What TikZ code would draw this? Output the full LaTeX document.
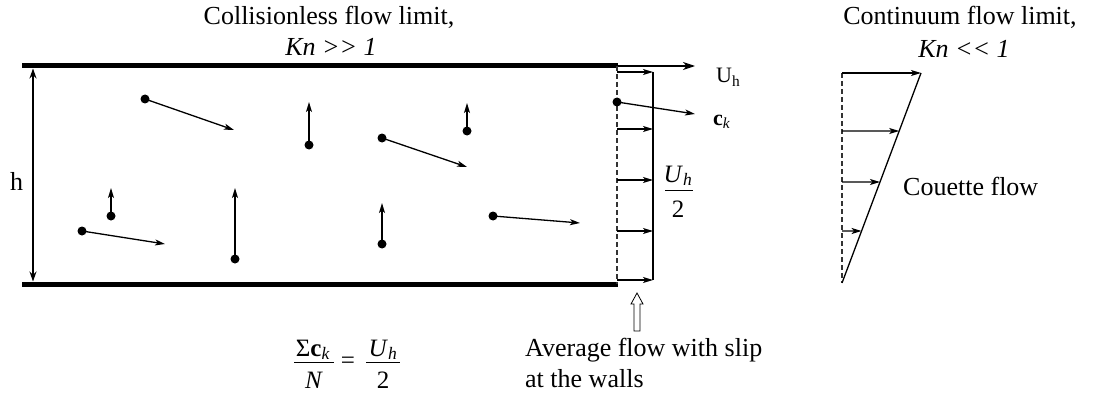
\documentclass[tikz,border=0pt]{standalone}
\usepackage{fontspec}
\setmainfont{Liberation Serif}
\usetikzlibrary{arrows.meta,calc}
\begin{document}
\begin{tikzpicture}[x=1pt,y=-1pt,
  wall/.style={line width=5pt},
  thinline/.style={line width=1.3pt},
  vec/.style={line width=1.3pt,-{Stealth[length=10pt,width=6pt,inset=2.5pt]}},
  bigvec/.style={line width=1.3pt,-{Stealth[length=12pt,width=8pt,inset=3.5pt]}},
  dashline/.style={line width=1.1pt,dash pattern=on 5pt off 3pt,gray!40!black},
  dot/.style={circle,fill,inner sep=0pt,minimum size=9pt},
  lbl/.style={font=\fontsize{26}{31}\selectfont,inner sep=0pt},
  mlbl/.style={font=\fontsize{25}{29}\selectfont,inner sep=0pt},
  slbl/.style={font=\fontsize{22}{26}\selectfont,inner sep=0pt},
  fracbar/.style={line width=1pt},
  ]
\useasboundingbox (0,0) rectangle (1093,396);

% walls
\coordinate (tl) at (22,66); \coordinate (tr) at (618,66);
\coordinate (bl) at (22,284); \coordinate (br) at (618,284);
\draw[wall] (tl) -- (tr);
\draw[wall] (bl) -- (br);

% height arrow
\coordinate (ht) at (33,68.5); \coordinate (hb) at (33,281.5);
\draw[thinline,{Stealth[length=10pt,width=7pt]}-{Stealth[length=10pt,width=7pt]}] (ht) -- (hb);
\node[lbl,anchor=base west] (hlab) at (10,190) {h};

% particles
\node[dot] (p1) at (145,99) {};  \coordinate (e1) at (234,130);
\node[dot] (p2) at (309,145) {}; \coordinate (e2) at (309,102);
\node[dot] (p3) at (382,138) {}; \coordinate (e3) at (467,167);
\node[dot] (p4) at (467,131) {}; \coordinate (e4) at (467,103);
\node[dot] (p5) at (111,216) {}; \coordinate (e5) at (111,188);
\node[dot] (p6) at (82,231) {};  \coordinate (e6) at (165,244);
\node[dot] (p7) at (235,259) {}; \coordinate (e7) at (235,188);
\node[dot] (p8) at (382,244) {}; \coordinate (e8) at (382,203);
\node[dot] (p9) at (493,216) {}; \coordinate (e9) at (580,223);
\foreach \i in {1,...,9} {\draw[vec] (p\i.center) -- (e\i);}

% slip profile
\coordinate (dt) at (617,66); \coordinate (db) at (617,284);
\draw[dashline] (dt) -- (db);
\coordinate (st) at (653,72); \coordinate (sb) at (653,280);
\draw[thinline] (st) -- (sb);
\foreach \y/\n in {72/a,129/b,180/c,231/d,280/e} {
  \coordinate (sl\n) at (617,\y); \coordinate (sr\n) at (653,\y);
  \draw[vec] (sl\n) -- (sr\n);
}
\node[dot] (p10) at (617,102) {}; \coordinate (e10) at (695,114);
\draw[vec] (p10.center) -- (e10);
\node[slbl,anchor=base west] (cklab) at (713,125) {\textbf{c}\textsubscript{\textit{k}}};

% wall velocity
\coordinate (ue) at (695,66);
\draw[bigvec] (tr) -- (ue);
\node[slbl,anchor=base west] (uhlab) at (716,83) {U\textsubscript{h}};

% Uh/2 fraction
\node[mlbl,anchor=base] (fn1) at (678,182) {\textit{U}\textsubscript{\textit{h}}};
\coordinate (fb1l) at (665,190); \coordinate (fb1r) at (693,190);
\draw[fracbar] (fb1l) -- (fb1r);
\node[mlbl,anchor=base] (fd1) at (678,217) {2};

% hollow arrow
\draw[line width=0.8pt] (634,331) -- (634,304) -- (631,304) -- (637,293) -- (643,304) -- (640,304) -- (640,331) -- cycle;

% bottom text
\node[lbl,anchor=base west] (avg1) at (525,356) {Average flow with slip};
\node[lbl,anchor=base west] (avg2) at (525,387) {at the walls};

% bottom formula
\node[mlbl,anchor=base] (fn2) at (313,356) {Σ\textbf{c}\textsubscript{\textit{k}}};
\coordinate (fb2l) at (294,362); \coordinate (fb2r) at (334,362);
\draw[fracbar] (fb2l) -- (fb2r);
\node[mlbl,anchor=base] (fd2) at (314,388) {\textit{N}};
\node[mlbl] (eq) at (348,363) {=};
\node[mlbl,anchor=base] (fn3) at (383,356) {\textit{U}\textsubscript{\textit{h}}};
\coordinate (fb3l) at (366,362); \coordinate (fb3r) at (400,362);
\draw[fracbar] (fb3l) -- (fb3r);
\node[mlbl,anchor=base] (fd3) at (383,388) {2};

% titles
\node[lbl,anchor=base] (t1) at (329,25) {Collisionless flow limit,};
\node[lbl,anchor=base] (t2) at (331,56) {\textit{Kn >{}> 1}};
\node[lbl,anchor=base] (t3) at (960,25) {Continuum flow limit,};
\node[lbl,anchor=base] (t4) at (964,58) {\textit{Kn <{}< 1}};

% Couette profile
\coordinate (ct) at (842,73); \coordinate (cb) at (842,283);
\coordinate (cs) at (921,73);
\draw[dashline] (ct) -- (cb);
\draw[thinline] (cb) -- (cs);
\draw[vec] (ct) -- (cs);
\foreach \y/\n in {131/a,182/b,231/c} {
  \coordinate (cl\n) at (842,\y);
  \coordinate (cr\n) at ($(cb)!{(283-\y)/210}!(cs)$);
  \draw[vec] (cl\n) -- (cr\n);
}
\node[lbl,anchor=base west] (cou) at (903,195) {Couette flow};
\end{tikzpicture}
\end{document}
